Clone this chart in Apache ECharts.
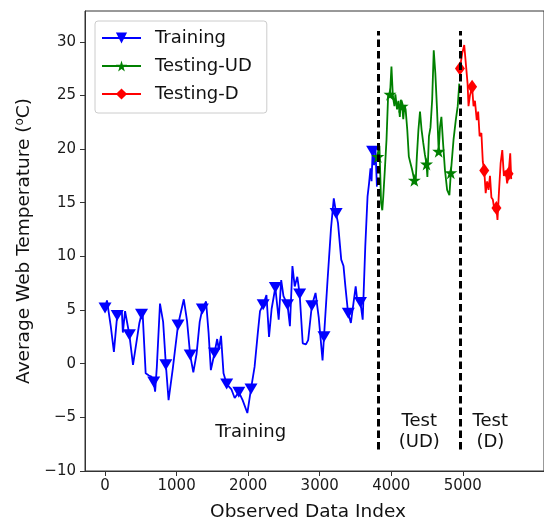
<!DOCTYPE html>
<html>
<head>
<meta charset="utf-8">
<script src="https://cdn.jsdelivr.net/npm/echarts@6/dist/echarts.min.js"></script>
<style>
  html, body { margin: 0; padding: 0; background: #fff; }
  #chart { width: 544px; height: 525px; }
</style>
</head>
<body>
<div id="chart"></div>
<script>
const seriesNames = ['Training', 'Testing-UD', 'Testing-D'];
const xTicks = [0, 1000, 2000, 3000, 4000, 5000];
const yTicks = [-10, -5, 0, 5, 10, 15, 20, 25, 30];
const splitX = [3813, 4960];
const splitY = [-8, 31];

// points that carry a marker
const trainMarks = [[0, 5.2], [170, 4.5], [340, 2.7], [510, 4.6], [680, -1.7], [850, -0.1], [1020, 3.6], [1190, 0.8],
  [1360, 5.1], [1530, 1.0], [1700, -1.9], [1870, -2.65], [2040, -2.35], [2210, 5.5], [2380, 7.1], [2550, 5.5],
  [2720, 6.5], [2890, 5.4], [3060, 2.5], [3230, 14.0], [3400, 4.7], [3570, 5.7], [3740, 19.8]];
// the rest of the line
const trainPts = [[27, 5.9], [80, 3.5], [124, 1.1], [235, 4.9], [249, 2.9], [280, 4.9], [391, -0.1], [480, 3.8],
  [524, 4.9], [568, -0.9], [613, -1.1], [648, -1.2], [700, -2.6], [724, -0.3], [768, 5.6], [812, 3.9], [888, -3.4],
  [946, -0.5], [1101, 6.0], [1146, 4.0], [1234, -0.8], [1279, 0.9], [1323, 3.9], [1412, 5.8], [1447, 2.9],
  [1479, -0.6], [1567, 2.3], [1590, 1.3], [1621, 2.6], [1656, -0.9], [1767, -2.4], [1812, -3.2], [1923, -3.4],
  [1989, -4.6], [2090, -0.3], [2135, 2.85], [2166, 4.9], [2256, 6.4], [2292, 2.5], [2328, 5.1], [2427, 4.1],
  [2462, 7.8], [2494, 6.3], [2584, 3.5], [2619, 9.1], [2651, 7.2], [2687, 8.1], [2763, 1.9], [2808, 1.8],
  [2839, 2.2], [2942, 6.6], [2987, 4.3], [3040, 0.3], [3110, 7.8], [3158, 12.6], [3197, 15.4], [3256, 13.1],
  [3301, 9.7], [3333, 9.1], [3359, 7.2], [3391, 5.1], [3436, 3.8], [3503, 7.2], [3525, 5.9], [3601, 4.1],
  [3637, 10.9], [3669, 15.6], [3690, 16.8], [3710, 18.2], [3725, 17.0], [3760, 18.5], [3780, 19.9], [3800, 16.5]];

const udMarks = [[3813, 19.3], [3983, 25.1], [4153, 24.0], [4323, 17.1], [4493, 18.6], [4663, 19.8], [4833, 17.8]];
const udPts = [[3835, 20.3], [3858, 15.0], [3875, 14.3], [3889, 15.6], [3911, 18.1], [3934, 20.9], [3956, 24.9],
  [4003, 27.7], [4023, 24.9], [4045, 24.0], [4058, 25.1], [4081, 23.7], [4100, 24.5], [4120, 23.0], [4134, 24.6],
  [4168, 22.8], [4185, 24.1], [4201, 23.7], [4224, 21.8], [4246, 19.3], [4268, 18.7], [4291, 18.1], [4340, 16.7],
  [4358, 19.3], [4380, 21.8], [4402, 23.5], [4424, 21.8], [4447, 20.6], [4470, 19.5], [4505, 17.4], [4527, 21.2],
  [4548, 22.0], [4572, 24.6], [4594, 29.2], [4616, 27.1], [4640, 23.7], [4682, 22.1], [4701, 23.0], [4724, 20.6],
  [4750, 18.1], [4781, 16.2], [4813, 15.7], [4871, 20.9], [4902, 22.7], [4929, 24.0], [4951, 26.1]];

const dMarks = [[4960, 27.5], [5130, 25.8], [5300, 18.0], [5470, 14.5], [5640, 17.7]];
const dPts = [[4991, 28.9], [5020, 29.7], [5050, 27.4], [5067, 26.1], [5080, 24.0], [5100, 25.0], [5150, 24.0],
  [5170, 24.5], [5195, 22.7], [5215, 23.5], [5235, 21.2], [5260, 21.5], [5280, 18.8], [5320, 15.9], [5340, 17.0],
  [5360, 16.2], [5380, 17.5], [5400, 15.5], [5420, 15.3], [5445, 14.2], [5485, 13.4], [5507, 16.2], [5529, 18.7],
  [5552, 19.9], [5574, 17.5], [5600, 18.0], [5620, 16.8], [5663, 19.6], [5677, 17.2]];

const notes = [
  { text: 'Training', x: 2035, y: -6.4 },
  { text: 'Test\n(UD)', x: 4392, y: -6.35 },
  { text: 'Test\n(D)', x: 5385, y: -6.35 }
];

const FONT = 'DejaVu Sans';
const starPath = 'path://M50,0 L61,35 L98,35 L68,57 L79,91 L50,70 L21,91 L32,57 L2,35 L39,35 Z';

// merge marker points into the line, marker-less points get symbol none
function build (marks, pts) {
  const items = marks.map(p => ({ value: p }))
    .concat(pts.map(p => ({ value: p, symbol: 'none' })));
  items.sort((a, b) => a.value[0] - b.value[0]);
  return items;
}

function lineSeries (name, color, data, symbol, size, rotate) {
  return {
    name: name,
    type: 'line',
    data: data,
    symbol: symbol,
    symbolSize: size,
    symbolRotate: rotate,
    showAllSymbol: true,
    lineStyle: { color: color, width: 1.8 },
    itemStyle: { color: color },
    emphasis: { disabled: true },
    z: 3
  };
}

const chart = echarts.init(document.getElementById('chart'));

chart.setOption({
  animation: false,
  backgroundColor: '#fff',
  grid: {
    left: 85, right: -2, top: 11, bottom: 54,
    show: true, borderColor: '#333', borderWidth: 1
  },
  xAxis: {
    type: 'value', min: -280, max: 6135,
    axisLine: { show: true, onZero: false, lineStyle: { color: '#333' } },
    axisTick: { show: true, length: 5, customValues: xTicks, lineStyle: { color: '#333' } },
    axisLabel: {
      customValues: xTicks, fontSize: 15, fontFamily: FONT, color: '#1a1a1a', margin: 8,
      formatter: v => String(v)
    },
    splitLine: { show: false }
  },
  yAxis: {
    type: 'value', min: -10, max: 32.87,
    axisLine: { show: true, onZero: false, lineStyle: { color: '#333' } },
    axisTick: { show: true, length: 5, customValues: yTicks, lineStyle: { color: '#333' } },
    axisLabel: {
      customValues: yTicks, fontSize: 15, fontFamily: FONT, color: '#1a1a1a', margin: 9,
      formatter: v => String(v).replace('-', '\u2212')
    },
    splitLine: { show: false }
  },
  legend: {
    data: seriesNames,
    orient: 'vertical',
    left: 95, top: 21,
    backgroundColor: '#fff',
    borderColor: '#ccc', borderWidth: 1, borderRadius: 3,
    padding: [8, 15, 10, 6],
    itemWidth: 39, itemHeight: 14, itemGap: 10,
    textStyle: { fontSize: 18, fontFamily: FONT, color: '#111', padding: [0, 0, 0, 9] }
  },
  series: [
    lineSeries('Training', '#0000ff', build(trainMarks, trainPts), 'triangle', [13, 11], 180),
    lineSeries('Testing-UD', '#008000', build(udMarks, udPts), starPath, 13, 0),
    lineSeries('Testing-D', '#ff0000', build(dMarks, dPts), 'diamond', [10, 14], 0),
    {
      name: 'split',
      type: 'line',
      data: [],
      z: 5,
      markLine: {
        silent: true,
        symbol: 'none',
        label: { show: false },
        lineStyle: { color: '#000', width: 3, type: [7.5, 4] },
        data: splitX.map(x => [{ coord: [x, splitY[0]] }, { coord: [x, splitY[1]] }])
      }
    }
  ]
});

// axis titles and region notes
const graphics = [
  {
    type: 'text', x: 308, y: 512,
    style: { text: 'Observed Data Index', font: '18.5px ' + FONT, fill: '#111', align: 'center', verticalAlign: 'middle' }
  },
  {
    type: 'text', x: 24, y: 241, rotation: Math.PI / 2,
    style: {
      text: 'Average Web Temperature ({s|o}C)', font: '18.5px ' + FONT, fill: '#111',
      align: 'center', verticalAlign: 'middle',
      rich: { s: { fontSize: 12, fontFamily: FONT, fill: '#111', padding: [0, 0, 8, 0] } }
    }
  }
];
notes.forEach(n => {
  const p = chart.convertToPixel({ gridIndex: 0 }, [n.x, n.y]);
  graphics.push({
    type: 'text', x: p[0], y: p[1],
    style: { text: n.text, font: '18px ' + FONT, fill: '#111', align: 'center', verticalAlign: 'middle', lineHeight: 21 }
  });
});
chart.setOption({ graphic: graphics });
</script>
</body>
</html>
